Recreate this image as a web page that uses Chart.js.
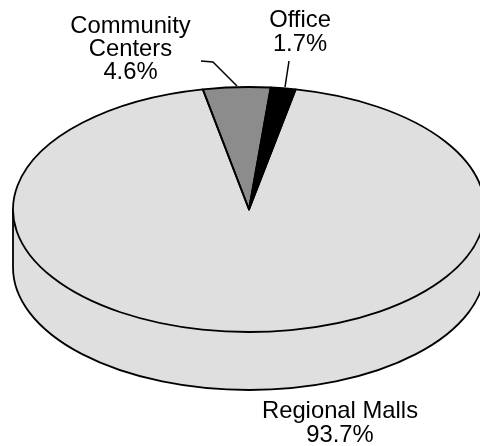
<!DOCTYPE html>
<html>
<head>
<meta charset="utf-8">
<style>html,body{margin:0;padding:0;background:#fff;overflow:hidden}canvas{display:block}</style>
<script src="https://cdn.jsdelivr.net/npm/chart.js@4"></script>
</head>
<body>
<canvas id="c" width="480" height="446"></canvas>
<script>
const categories = ["Regional Malls", "Community Centers", "Office"];
const shares = [93.7, 4.6, 1.7];
const sliceColors = ["#dfdfdf", "#8c8c8c", "#000000"];

const SQUASH = 122.5 / 236, DEPTH = 58, RADIUS = 236, ROTATION = 11.4;
const FONT = '23.8px "Liberation Sans", Arial, sans-serif';
const LABELS = [
  {lines: ["Community", "Centers", "4.6%"], x: 130.5, y: 33, dy: 23},
  {lines: ["Office", "1.7%"], x: 300, y: 27, dy: 24},
  {lines: ["Regional Malls", "93.7%"], x: 340, y: 418, dy: 24}
];
const LEADERS = [
  [[201, 61], [213, 62], [237, 86]],
  [[289, 61], [285, 87]]
];

function squash(ctx, cy) {
  ctx.translate(0, cy);
  ctx.scale(1, SQUASH);
  ctx.translate(0, -cy);
}

const pie3d = {
  id: "pie3d",
  beforeDatasetsDraw(chart) {
    const ctx = chart.ctx, a = chart.getDatasetMeta(0).data[0];
    const r = a.outerRadius, ry = r * SQUASH;
    ctx.save();
    ctx.beginPath();
    ctx.moveTo(a.x - r, a.y);
    ctx.lineTo(a.x - r, a.y + DEPTH);
    ctx.ellipse(a.x, a.y + DEPTH, r, ry, 0, Math.PI, 0, true);
    ctx.lineTo(a.x + r, a.y);
    ctx.closePath();
    ctx.fillStyle = sliceColors[0];
    ctx.fill();
    ctx.lineWidth = 1.8;
    ctx.strokeStyle = "#000";
    ctx.stroke();
    ctx.restore();
    ctx.save();
    squash(ctx, a.y);
  },
  afterDatasetsDraw(chart) {
    const ctx = chart.ctx;
    ctx.restore();
    ctx.save();
    ctx.strokeStyle = "#000";
    ctx.lineWidth = 1.8;
    ctx.lineJoin = "round";
    chart.getDatasetMeta(0).data.forEach(a => {
      ctx.save();
      squash(ctx, a.y);
      ctx.beginPath();
      ctx.moveTo(a.x, a.y);
      ctx.arc(a.x, a.y, a.outerRadius, a.startAngle, a.endAngle);
      ctx.closePath();
      ctx.restore();
      ctx.stroke();
    });
    ctx.lineWidth = 1.5;
    LEADERS.forEach(pts => {
      ctx.beginPath();
      pts.forEach((p, i) => i ? ctx.lineTo(p[0], p[1]) : ctx.moveTo(p[0], p[1]));
      ctx.stroke();
    });
    ctx.fillStyle = "#000";
    ctx.font = FONT;
    ctx.textAlign = "center";
    ctx.textBaseline = "alphabetic";
    LABELS.forEach(l => l.lines.forEach((t, i) => ctx.fillText(t, l.x, l.y + i * l.dy)));
    ctx.restore();
  }
};

new Chart(document.getElementById("c"), {
  type: "pie",
  data: {
    labels: categories,
    datasets: [{
      data: shares,
      backgroundColor: sliceColors,
      borderWidth: 0,
      radius: RADIUS,
      rotation: ROTATION,
      clip: false
    }]
  },
  options: {
    responsive: false,
    animation: false,
    devicePixelRatio: 1,
    layout: {padding: {left: 18, right: 0, top: 0, bottom: 27}},
    plugins: {legend: {display: false}, tooltip: {enabled: false}, title: {display: false}}
  },
  plugins: [pie3d]
});
</script>
</body>
</html>
